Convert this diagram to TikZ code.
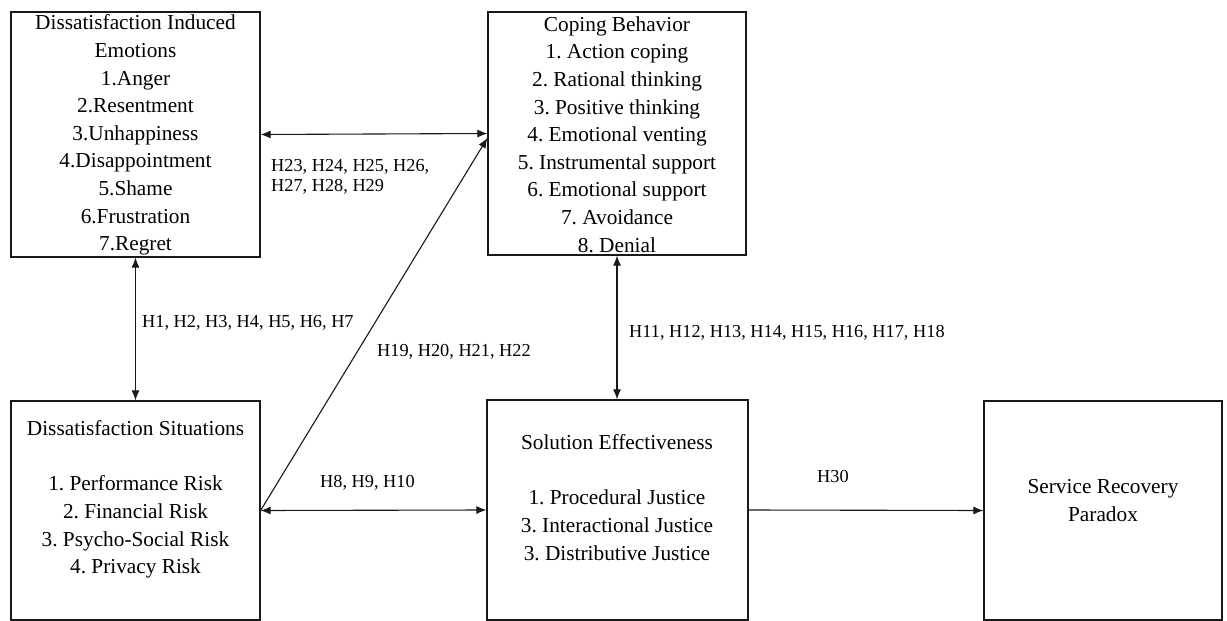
\documentclass[tikz,border=0pt]{standalone}
\usepackage{fontspec}
\setmainfont{Liberation Serif}
\usetikzlibrary{arrows.meta,calc}
\frenchspacing
\tikzset{
  box/.style={draw=black!90, line width=1.2pt, inner sep=0pt, fill=none},
  boxtext/.style={align=center, inner sep=0pt, font=\fontsize{21.3}{27.6}\selectfont, text=black},
  hlabel/.style={align=left, inner sep=0pt, anchor=west, font=\fontsize{18.3}{20}\selectfont, text=black},
  conn/.style={line width=1.1pt, draw=black!90, arrows={-{Latex[length=10pt,width=8pt]}}},
  biconn/.style={line width=1.1pt, draw=black!90, arrows={{Latex[length=10pt,width=8pt]}-{Latex[length=10pt,width=8pt]}}}
}
\begin{document}
\frenchspacing
\begin{tikzpicture}[x=1pt,y=-1pt]
\useasboundingbox (0,0) rectangle (1227,621);
% boxes
\node[box, minimum width=249pt, minimum height=245pt] (emo) at (135.5,134.5) {};
\node[box, minimum width=258pt, minimum height=243pt] (cop) at (617,133.5) {};
\node[box, minimum width=249pt, minimum height=219pt] (sit) at (135.5,510.5) {};
\node[box, minimum width=261pt, minimum height=220pt] (sol) at (617.5,510) {};
\node[box, minimum width=238pt, minimum height=219pt] (srv) at (1103,510.5) {};
% box texts
\node[boxtext] (emot) at (135.5,135) {Dissatisfaction Induced\\Emotions\\1.Anger\\2.Resentment\\3.Unhappiness\\4.Disappointment\\5.Shame\\6.Frustration\\7.Regret};
\node[boxtext] (copt) at (617,134.5) {Coping Behavior\\1. Action coping\\2. Rational thinking\\3. Positive thinking\\4. Emotional venting\\5. Instrumental support\\6. Emotional support\\7. Avoidance\\8. Denial};
\node[boxtext] (sitt) at (135.5,499.5) {Dissatisfaction Situations\\[27.6pt]1. Performance Risk\\2. Financial Risk\\3. Psycho-Social Risk\\4. Privacy Risk};
\node[boxtext] (solt) at (617,497.5) {Solution Effectiveness\\[27.6pt]1. Procedural Justice\\3. Interactional Justice\\3. Distributive Justice};
\node[boxtext] (srvt) at (1103,500.5) {Service Recovery\\Paradox};
% connectors
\draw[biconn] (emo.east) -- (cop.west);
\draw[biconn] (emo.south) -- (sit.north);
\draw[biconn] (cop.south) -- (cop.south |- sol.north);
\draw[biconn] (sit.east) -- (sol.west);
\draw[conn] (sol.east) -- (srv.west);
\draw[conn] (sit.east) -- ($(cop.west)+(0,4.5)$);
% labels
\node[hlabel] (l1) at (271,177) {H23, H24, H25, H26,\\H27, H28, H29};
\node[hlabel] (l2) at (142,323) {H1, H2, H3, H4, H5, H6, H7};
\node[hlabel] (l3) at (377,352) {H19, H20, H21, H22};
\node[hlabel] (l4) at (629,333) {H11, H12, H13, H14, H15, H16, H17, H18};
\node[hlabel] (l5) at (320,483) {H8, H9, H10};
\node[hlabel] (l6) at (817,477) {H30};
\end{tikzpicture}
\end{document}
